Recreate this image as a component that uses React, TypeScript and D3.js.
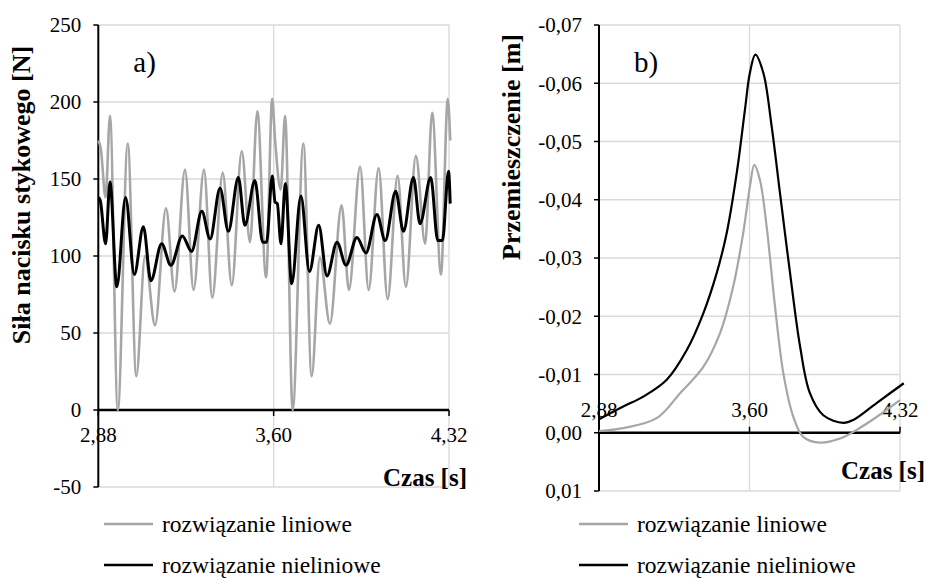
import React from 'react';
import * as d3 from 'd3';

// chart a) - contact force [N]
const timeLinA = [2.880, 2.890, 2.910, 2.928, 2.960, 3.001, 3.036, 3.072, 3.113, 3.158, 3.193, 3.236, 3.271, 3.314, 3.348, 3.391, 3.428, 3.469, 3.503, 3.533, 3.569, 3.594, 3.606, 3.629, 3.647, 3.678, 3.722, 3.756, 3.790, 3.831, 3.879, 3.909, 3.955, 3.990, 4.031, 4.068, 4.109, 4.143, 4.184, 4.222, 4.251, 4.287, 4.315, 4.325];
const forceLinA = [175, 170, 138, 191, 0, 173, 22, 100, 55, 131, 77, 156, 78, 156, 73, 154, 81, 168, 109, 194, 86, 202, 175, 143, 191, 0, 173, 22, 99, 56, 133, 78, 158, 78, 157, 72, 152, 80, 165, 108, 193, 88, 202, 175];
const timeNonA = [2.880, 2.888, 2.910, 2.928, 2.956, 2.992, 3.028, 3.065, 3.096, 3.140, 3.178, 3.225, 3.263, 3.305, 3.339, 3.380, 3.414, 3.455, 3.482, 3.523, 3.555, 3.571, 3.594, 3.606, 3.615, 3.630, 3.648, 3.674, 3.712, 3.747, 3.785, 3.819, 3.860, 3.897, 3.942, 3.979, 4.024, 4.058, 4.101, 4.133, 4.174, 4.201, 4.245, 4.274, 4.293, 4.318, 4.325];
const forceNonA = [138, 136, 108, 148, 80, 138, 88, 119, 84, 108, 94, 113, 103, 129, 111, 144, 116, 151, 120, 149, 109, 109, 152, 135, 134, 108, 147, 82, 139, 90, 120, 87, 109, 94, 112, 102, 127, 110, 142, 116, 151, 121, 151, 110, 110, 155, 134];
const ticksYA = [-50, 0, 50, 100, 150, 200, 250];

// chart b) - displacement [m]
const timeLinB = [2.880, 2.996, 3.156, 3.268, 3.379, 3.459, 3.522, 3.570, 3.602, 3.623, 3.650, 3.682, 3.722, 3.762, 3.810, 3.857, 3.937, 4.033, 4.113, 4.208, 4.320];
const dispLinB = [-0.0003, -0.0008, -0.0025, -0.0068, -0.0113, -0.0171, -0.0251, -0.0343, -0.0423, -0.0460, -0.0434, -0.0354, -0.0217, -0.0102, -0.0027, 0.0007, 0.0017, 0.0010, -0.0005, -0.0027, -0.0056];
const timeNonB = [2.880, 2.996, 3.092, 3.204, 3.300, 3.379, 3.443, 3.491, 3.539, 3.578, 3.602, 3.628, 3.666, 3.706, 3.746, 3.794, 3.842, 3.889, 3.953, 4.049, 4.097, 4.208, 4.338];
const dispNonB = [-0.0023, -0.0045, -0.0062, -0.0091, -0.0142, -0.0205, -0.0274, -0.0343, -0.0446, -0.0554, -0.0618, -0.0649, -0.0618, -0.0526, -0.0411, -0.0274, -0.0148, -0.0068, -0.0030, -0.0017, -0.0022, -0.0051, -0.0085];
const ticksYB = [-0.07, -0.06, -0.05, -0.04, -0.03, -0.02, -0.01, 0, 0.01];

const timeTicks = [2.88, 3.60, 4.32];
const seriesNames = ['rozwiązanie liniowe', 'rozwiązanie nieliniowe'];
const seriesColors = ['#a6a6a6', '#000000'];

const FONT = '"Liberation Serif", "Times New Roman", serif';
const GRID = '#d9d9d9';
const comma = (v: number, d: number) => v.toFixed(d).replace('.', ',');

const zip = (xs: number[], ys: number[]) => xs.map((x, i) => [x, ys[i]] as [number, number]);

const Panel = ({ left, right, top, bottom, yDomain, yTicks, yFmt, lin, non, letter, yLabel, yLabelX, yLabelY, czasX, czasY, tickUp, labelDy, linW, nonW, legendX, curve }: any) => {
    const x = d3.scaleLinear().domain([2.88, 4.32]).range([left, right]);
    const y = d3.scaleLinear().domain(yDomain).range([bottom, top]);
    const line = d3.line<[number, number]>()
        .x(d => x(d[0]))
        .y(d => y(d[1]))
        .curve(curve);
    const y0 = y(0);

    return (
        <g>
            {/* grid */}
            {yTicks.map((t: number) => (
                <line key={'h' + t} x1={left} x2={right} y1={y(t)} y2={y(t)} stroke={GRID} strokeWidth={1.3} />
            ))}
            {timeTicks.slice(1).map(t => (
                <line key={'v' + t} x1={x(t)} x2={x(t)} y1={top} y2={bottom} stroke={GRID} strokeWidth={1.3} />
            ))}
            {/* y axis */}
            <line x1={left} x2={left} y1={top} y2={bottom} stroke="#000" strokeWidth={2} />
            {yTicks.map((t: number) => (
                <g key={'yt' + t}>
                    <line x1={left - 5} x2={left} y1={y(t)} y2={y(t)} stroke="#000" strokeWidth={1.5} />
                    <text x={left - 17} y={y(t)} dy="0.35em" textAnchor="end" fontSize={21} fontFamily={FONT}>{yFmt(t)}</text>
                </g>
            ))}
            {/* x axis */}
            <line x1={left} x2={right} y1={y0} y2={y0} stroke="#000" strokeWidth={2.5} />
            {timeTicks.map(t => (
                <g key={'xt' + t}>
                    <line x1={x(t)} x2={x(t)} y1={y0} y2={tickUp ? y0 - 6 : y0 + 6} stroke="#000" strokeWidth={1.5} />
                    <text x={x(t)} y={y0 + labelDy} dy="0.35em" textAnchor="middle" fontSize={21} fontFamily={FONT}>{comma(t, 2)}</text>
                </g>
            ))}
            {/* series */}
            <path d={line(lin) || ''} fill="none" stroke={seriesColors[0]} strokeWidth={linW} />
            <path d={line(non) || ''} fill="none" stroke={seriesColors[1]} strokeWidth={nonW} />
            {/* labels */}
            <text x={left + 35} y={62} dy="0.35em" fontSize={29} fontFamily={FONT}>{letter}</text>
            <text transform={`translate(${yLabelX},${yLabelY}) rotate(-90)`} textAnchor="middle" dy="0.35em" fontSize={26} fontWeight="bold" fontFamily={FONT}>{yLabel}</text>
            <text x={czasX} y={czasY} dy="0.35em" textAnchor="end" fontSize={25} fontWeight="bold" fontFamily={FONT}>Czas [s]</text>
            {/* legend */}
            {seriesNames.map((n, i) => (
                <g key={n}>
                    <line x1={legendX} x2={legendX + 49} y1={524 + i * 41} y2={524 + i * 41} stroke={seriesColors[i]} strokeWidth={2.5} />
                    <text x={legendX + 58} y={524 + i * 41} dy="0.32em" fontSize={23.5} fontFamily={FONT}>{n}</text>
                </g>
            ))}
        </g>
    );
};

export default function App() {
    return (
        <svg width={927} height={578} style={{ position: 'absolute', left: 0, top: 0, background: '#fff' }}>
            <Panel left={98.3} right={449} top={25} bottom={487} yDomain={[-50, 250]} yTicks={ticksYA}
                yFmt={(v: number) => String(v)}
                lin={zip(timeLinA, forceLinA)} non={zip(timeNonA, forceNonA)}
                letter="a)" yLabel="Siła nacisku stykowego [N]" yLabelX={21} yLabelY={195}
                czasX={467} czasY={477} tickUp={false} labelDy={25} linW={2.6} nonW={3}
                legendX={104} curve={d3.curveMonotoneX} />
            <Panel left={599} right={900} top={25} bottom={491} yDomain={[0.01, -0.07]} yTicks={ticksYB}
                yFmt={(v: number) => comma(v, 2)}
                lin={zip(timeLinB, dispLinB)} non={zip(timeNonB, dispNonB)}
                letter="b)" yLabel="Przemieszczenie [m]" yLabelX={511} yLabelY={147}
                czasX={925} czasY={470} tickUp={true} labelDy={-23} linW={2.2} nonW={2.2}
                legendX={579} curve={d3.curveCatmullRom.alpha(0.5)} />
        </svg>
    );
}
